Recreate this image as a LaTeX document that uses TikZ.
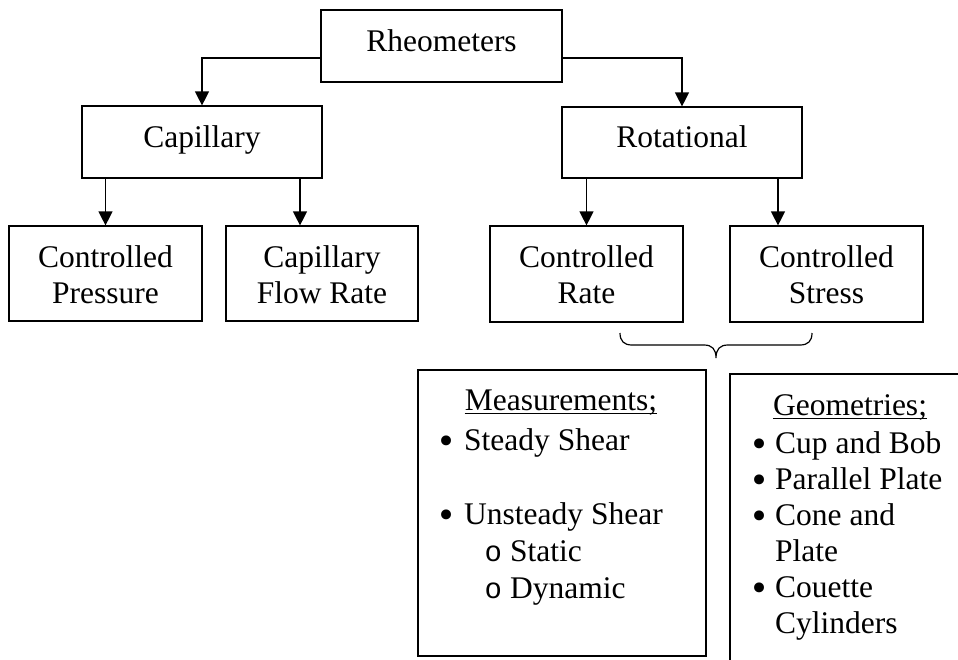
\documentclass[tikz,border=0pt]{standalone}
\usepackage{fontspec}
\setmainfont{Liberation Serif}
\newfontfamily\monofont{Liberation Mono}
\newfontfamily\dejavu{DejaVu Sans}
\usetikzlibrary{arrows.meta,calc}
\newcommand{\bul}[1]{\llap{\makebox[0pt]{\raisebox{-3pt}[0pt][0pt]{\dejavu\fontsize{34}{36}\selectfont •}}\hspace{#1pt}}}
\newcommand{\subbul}[1]{\llap{\makebox[0pt]{\monofont\fontsize{29}{36}\selectfont o}\hspace{#1pt}}}
\begin{document}
\begin{tikzpicture}[x=1pt,y=-1pt,
  every node/.style={font=\fontsize{31.5}{36}\selectfont},
  box/.style={draw, line width=1.2pt, rectangle, inner sep=0pt},
  one/.style={box, text height=22pt, text depth=12pt},
  two/.style={box, align=center, text height=66pt, text depth=7pt},
  arr/.style={line width=1.2pt, -{Triangle[length=14pt,width=14pt]}},
  item/.style={anchor=base west, inner sep=0pt},
  head/.style={anchor=base, inner sep=0pt},
  uline/.style={line width=1.3pt}]
\useasboundingbox (0,0) rectangle (958,659);
\clip (0,0) rectangle (958,659);

% top levels
\node[one, minimum width=241pt, minimum height=72pt] (rh) at (441.5,46) {Rheometers};
\node[one, minimum width=240pt, minimum height=72pt] (cap) at (202,142) {Capillary};
\node[one, minimum width=240pt, minimum height=71pt] (rot) at (682,142.5) {Rotational};

% leaves
\node[two, minimum width=193pt, minimum height=95pt] (cp) at (105.5,273.5) {Controlled\\Pressure};
\node[two, minimum width=192pt, minimum height=95pt] (cfr) at (322,273.5) {Capillary\\Flow Rate};
\node[two, minimum width=193pt, minimum height=96pt] (cr) at (586.5,274) {Controlled\\Rate};
\node[two, minimum width=193pt, minimum height=96pt] (cs) at (826.5,274) {Controlled\\Stress};

% connectors
\draw[arr] ([yshift=-12pt]rh.west) -| (cap.north);
\draw[arr] ([yshift=-12pt]rh.east) -| (rot.north);
\draw[arr] (cp.north |- cap.south) -- (cp.north);
\draw[arr] ([xshift=-22pt]cfr.north |- cap.south) -- ([xshift=-22pt]cfr.north);
\draw[arr] (cr.north |- rot.south) -- (cr.north);
\draw[arr] ([xshift=-48.5pt]cs.north |- rot.south) -- ([xshift=-48.5pt]cs.north);

% brace
\draw[line width=1.2pt] (620,333) .. controls (620,341) and (624,345) .. (632,345) -- (704,345)
  .. controls (712,345) and (716,349) .. (716,358)
  .. controls (716,349) and (720,345) .. (728,345) -- (800,345)
  .. controls (808,345) and (812,341) .. (812,333);

% lower boxes
\node[box, minimum width=288pt, minimum height=286pt] (mea) at (562,513) {};
\node[box, minimum width=240pt, minimum height=300pt] (geo) at (850,524) {};

\node[head] (mh) at (561,410) {Measurements;};
\draw[uline] ([yshift=-3.5pt]mh.base west) -- ([yshift=-3.5pt]mh.base east);
\node[item] (m1) at (464,450) {\bul{18}Steady Shear};
\node[item] (m2) at (464,524) {\bul{18}Unsteady Shear};
\node[item] (m3) at (510,561) {\subbul{17}Static};
\node[item] (m4) at (510,598) {\subbul{17}Dynamic};

\node[head] (gh) at (850,415) {Geometries;};
\draw[uline] ([yshift=-3.5pt]gh.base west) -- ([yshift=-3.5pt]gh.base east);
\node[item] (g1) at (775,453) {\bul{16}Cup and Bob};
\node[item] (g2) at (775,489) {\bul{16}Parallel Plate};
\node[item] (g3) at (775,525) {\bul{16}Cone and};
\node[item] (g4) at (775,561) {Plate};
\node[item] (g5) at (775,597) {\bul{16}Couette};
\node[item] (g6) at (775,633) {Cylinders};
\end{tikzpicture}
\end{document}
